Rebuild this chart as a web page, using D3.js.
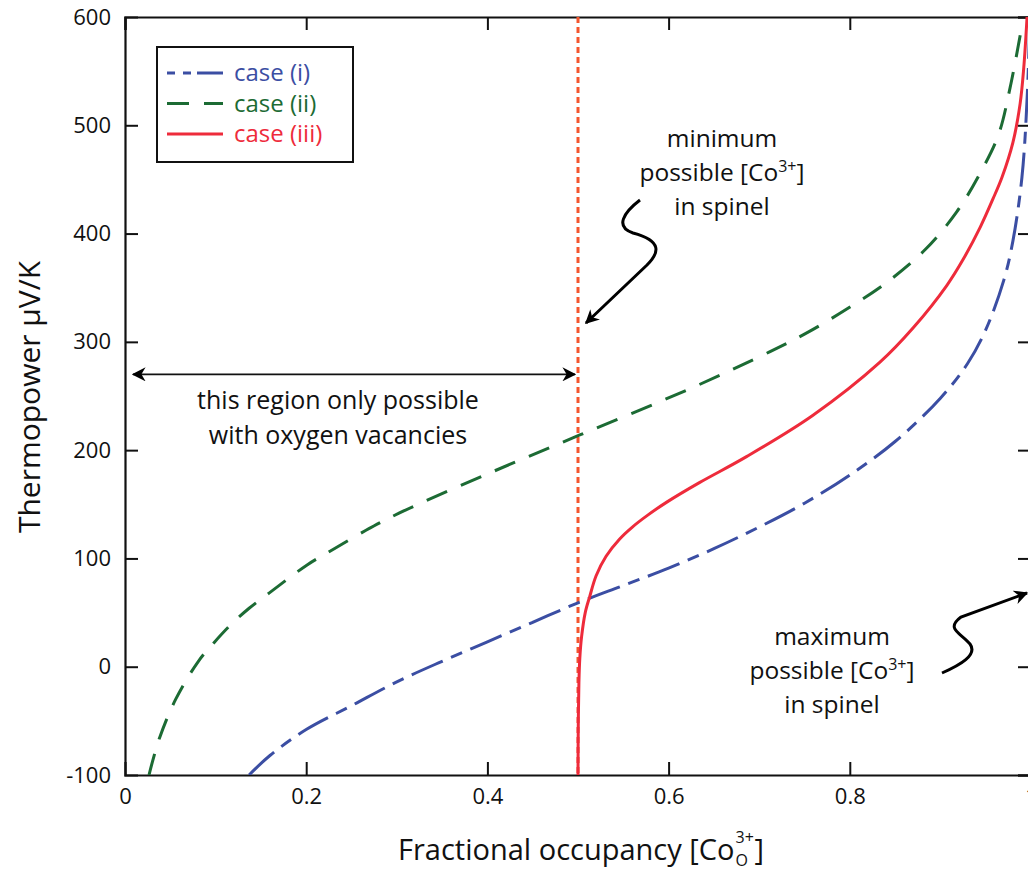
<!DOCTYPE html>
<html>
<head>
<meta charset="utf-8">
<script src="https://cdn.jsdelivr.net/npm/d3@7"></script>
<style>
    body { margin: 0; background: #fff; }
    svg { display: block; font-family: "Open Sans", "Noto Sans", sans-serif; }
</style>
</head>
<body>
<div id="chart"></div>
<script>
// values
var case1X = [0.137, 0.16, 0.2, 0.25, 0.3, 0.35, 0.4, 0.45, 0.5, 0.55, 0.6, 0.65, 0.7, 0.75, 0.8, 0.85, 0.9, 0.93, 0.95, 0.97, 0.98, 0.99, 0.996, 1.0];
var case1Y = [-100, -82, -58, -36, -14, 5, 23, 41, 59, 75, 91, 109, 129, 151, 177, 208, 248, 280, 311, 357, 393, 452, 530, 640];

var case2X = [0.0265, 0.0376, 0.056, 0.081, 0.098, 0.117, 0.137, 0.159, 0.201, 0.223, 0.266, 0.303, 0.4, 0.502, 0.627, 0.712, 0.754, 0.798, 0.841, 0.883, 0.918, 0.944, 0.964, 0.977, 0.99];
var case2Y = [-100, -67, -30, 5, 22, 39, 54, 68, 94, 105, 126, 142, 178, 214, 258, 291, 309, 331, 355, 385, 420, 456, 491, 535, 592];

var case3X = [0.5, 0.5003, 0.501, 0.502, 0.504, 0.508, 0.513, 0.52, 0.531, 0.546, 0.56, 0.577, 0.598, 0.634, 0.686, 0.759, 0.833, 0.87, 0.907, 0.925, 0.944, 0.958, 0.968, 0.98, 0.988, 0.992, 0.996];
var case3Y = [-100, -55, -15, 8, 28, 50, 65, 84, 102, 118, 129, 140, 152, 170, 194, 232, 281, 313, 352, 376, 406, 432, 452, 484, 520, 553, 605];

var xTicks = [0, 0.2, 0.4, 0.6, 0.8, 1];
var yTicks = [-100, 0, 100, 200, 300, 400, 500, 600];

var caseNames = ["case (i)", "case (ii)", "case (iii)"];
var caseColors = ["#3b4ea3", "#1c6b34", "#ee2b3b"];
var caseDash = ["34,9,12,9", "22,15", null];

var minLimitX = 0.5;     // minimum possible [Co3+] in spinel
var regionArrowY = 270;  // level of the double arrow

var width = 1028, height = 873;
var margin = { top: 17, left: 125, bottom: 98, right: -3 };
var w = width - margin.left - margin.right,
    h = height - margin.top - margin.bottom;

var x = d3.scaleLinear().domain([0, 1]).range([0, w]);
var y = d3.scaleLinear().domain([-100, 600]).range([h, 0]);

var svg = d3.select("#chart").append("svg")
    .attr("width", width)
    .attr("height", height);

var defs = svg.append("defs");
defs.append("clipPath").attr("id", "plotclip")
    .append("rect").attr("width", w).attr("height", h);

defs.append("marker")
    .attr("id", "head2")
    .attr("viewBox", "0 0 10 10")
    .attr("refX", 9).attr("refY", 5)
    .attr("markerWidth", 14).attr("markerHeight", 14)
    .attr("markerUnits", "userSpaceOnUse")
    .attr("orient", "auto-start-reverse")
    .append("path")
    .attr("d", "M0,0 L10,5 L0,10 L3,5 Z")
    .attr("fill", "#000");

var g = svg.append("g")
    .attr("transform", "translate(" + margin.left + "," + margin.top + ")");

// axes, ticks pointing inwards
var tickLen = 13;
var bottomAxis = g.append("g")
    .attr("transform", "translate(0," + h + ")")
    .call(d3.axisBottom(x).tickValues(xTicks).tickSize(-tickLen).tickPadding(13)
        .tickFormat(function(d) { return d === 0 || d === 1 ? d : d3.format(".1f")(d); }));
var leftAxis = g.append("g")
    .call(d3.axisLeft(y).tickValues(yTicks).tickSize(-tickLen).tickPadding(14)
        .tickFormat(function(d) { return String(d); }));
var topAxis = g.append("g")
    .call(d3.axisTop(x).tickValues(xTicks).tickSize(-tickLen).tickFormat(""));
var rightAxis = g.append("g")
    .attr("transform", "translate(" + w + ",0)")
    .call(d3.axisRight(y).tickValues(yTicks).tickSize(-tickLen).tickFormat(""));

[bottomAxis, leftAxis, topAxis, rightAxis].forEach(function(a) {
    a.select(".domain").attr("stroke", "#111").attr("stroke-width", 2.2);
    a.selectAll(".tick line").attr("stroke", "#111").attr("stroke-width", 2);
    a.selectAll(".tick text")
        .attr("fill", "#111")
        .style("font-size", "22px")
        .style("font-family", "'Open Sans', sans-serif");
});
bottomAxis.selectAll(".tick").filter(function(d) { return d === 0 || d === 1; })
    .select("line").remove();
leftAxis.selectAll(".tick").filter(function(d) { return d === -100 || d === 600; })
    .select("line").remove();

// vertical dotted limit
g.append("line")
    .attr("x1", x(minLimitX)).attr("x2", x(minLimitX))
    .attr("y1", 0).attr("y2", h)
    .attr("stroke", "#f4552e")
    .attr("stroke-width", 3)
    .attr("stroke-dasharray", "6,4");

// curves
var series = [
    { xs: case1X, ys: case1Y },
    { xs: case2X, ys: case2Y },
    { xs: case3X, ys: case3Y }
];

var line = d3.line()
    .x(function(d) { return x(d[0]); })
    .y(function(d) { return y(d[1]); })
    .curve(d3.curveCatmullRom.alpha(0.5));

var plot = g.append("g").attr("clip-path", "url(#plotclip)");
series.forEach(function(s, i) {
    var pts = s.xs.map(function(v, j) { return [v, s.ys[j]]; });
    plot.append("path")
        .datum(pts)
        .attr("d", line)
        .attr("fill", "none")
        .attr("stroke", caseColors[i])
        .attr("stroke-width", 3)
        .attr("stroke-dasharray", caseDash[i]);
});

// legend
var legend = g.append("g").attr("transform", "translate(32,30)");
legend.append("rect")
    .attr("width", 196).attr("height", 115)
    .attr("fill", "#fff")
    .attr("stroke", "#111")
    .attr("stroke-width", 2);
caseNames.forEach(function(name, i) {
    var ly = 26 + i * 30.5;
    legend.append("line")
        .attr("x1", 10).attr("x2", 66)
        .attr("y1", ly).attr("y2", ly)
        .attr("stroke", caseColors[i])
        .attr("stroke-width", 3)
        .attr("stroke-dasharray", i === 0 ? "8,8,8,6,40" : caseDash[i]);
    legend.append("text")
        .attr("x", 77).attr("y", ly + 8)
        .attr("fill", caseColors[i])
        .style("font-size", "24px")
        .text(name);
});

// double arrow: region only possible with oxygen vacancies
g.append("line")
    .attr("x1", 8).attr("x2", x(minLimitX) - 3)
    .attr("y1", y(regionArrowY)).attr("y2", y(regionArrowY))
    .attr("stroke", "#111")
    .attr("stroke-width", 1.6)
    .attr("marker-start", "url(#head2)")
    .attr("marker-end", "url(#head2)");

var regionText = g.append("text")
    .attr("text-anchor", "middle")
    .attr("fill", "#111")
    .style("font-size", "25px");
regionText.append("tspan").attr("x", 213).attr("y", 392).text("this region only possible");
regionText.append("tspan").attr("x", 213).attr("y", 427).text("with oxygen vacancies");

// annotation helper with Co3+ superscript
function note(cx, top, lines) {
    var t = g.append("text")
        .attr("text-anchor", "middle")
        .attr("fill", "#111")
        .style("font-size", "24.5px");
    lines.forEach(function(l, i) {
        var ts = t.append("tspan").attr("x", cx).attr("y", top + i * 34);
        if (l === "co") {
            ts.text("possible [Co");
            t.append("tspan").attr("dy", -9).style("font-size", "16px").text("3+");
            t.append("tspan").attr("dy", 9).text("]");
        } else {
            ts.text(l);
        }
    });
}
note(597, 130, ["minimum", "co", "in spinel"]);
note(707, 628, ["maximum", "co", "in spinel"]);

// squiggly arrows
g.append("path")
    .attr("d", "M515,183 C498,196 490,210 508,216 C538,224 534,236 522,248 L461,306")
    .attr("fill", "none")
    .attr("stroke", "#000")
    .attr("stroke-width", 3)
    .attr("marker-end", "url(#head2)");

g.append("path")
    .attr("d", "M817,656 C835,648 853,638 845,627 C836,616 820,612 836,600 L902,576")
    .attr("fill", "none")
    .attr("stroke", "#000")
    .attr("stroke-width", 3)
    .attr("marker-end", "url(#head2)");

// axis titles: main part, then stacked sub/superscript and closing bracket
var xMain = svg.append("text")
    .attr("x", 398).attr("y", 860)
    .attr("fill", "#111")
    .style("font-size", "29px")
    .text("Fractional occupancy [Co");
var mainEnd = 398 + xMain.node().getComputedTextLength();
svg.append("text")
    .attr("x", mainEnd + 1).attr("y", 866)
    .attr("fill", "#111")
    .style("font-size", "16px")
    .text("O");
svg.append("text")
    .attr("x", mainEnd + 1).attr("y", 843)
    .attr("fill", "#111")
    .style("font-size", "16px")
    .text("3+");
svg.append("text")
    .attr("x", mainEnd + 20).attr("y", 860)
    .attr("fill", "#111")
    .style("font-size", "29px")
    .text("]");

svg.append("text")
    .attr("transform", "translate(40,397) rotate(-90)")
    .attr("text-anchor", "middle")
    .attr("fill", "#111")
    .style("font-size", "30px")
    .text("Thermopower \u03BCV/K");
</script>
</body>
</html>
